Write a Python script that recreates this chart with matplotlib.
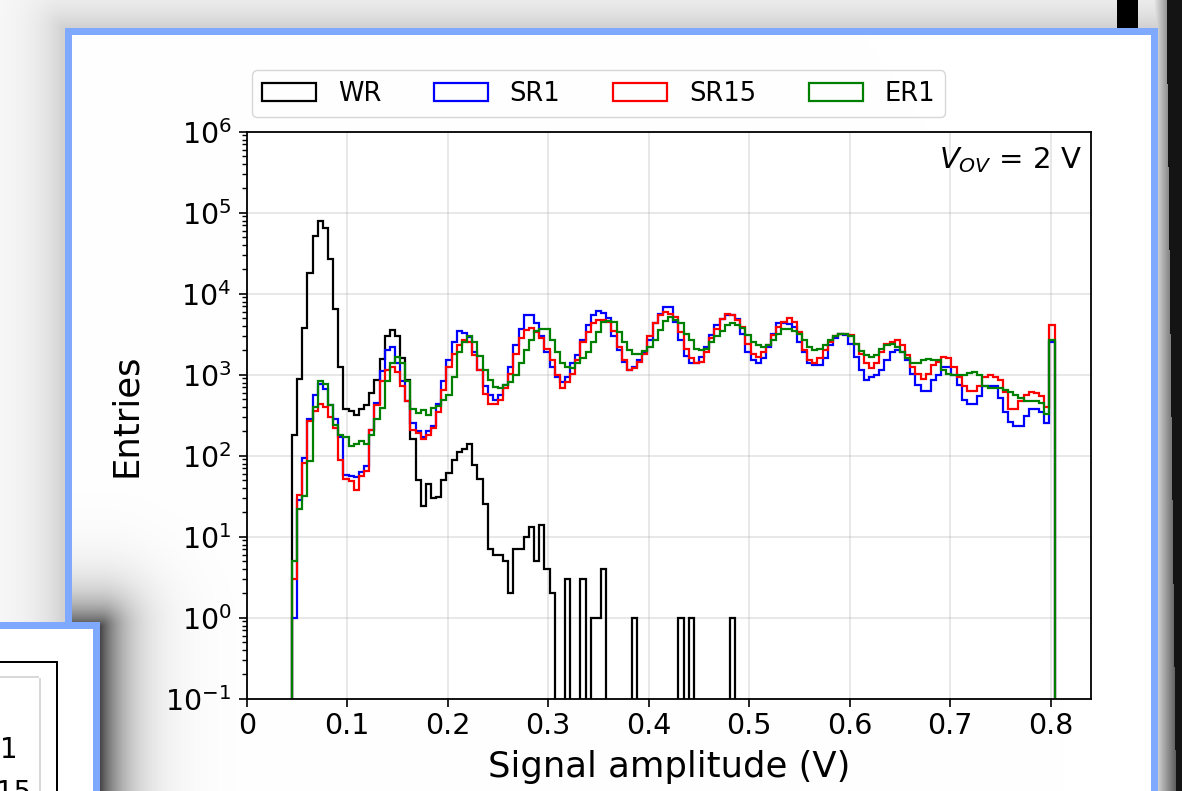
import numpy as np
import matplotlib
matplotlib.use("Agg")
import matplotlib.pyplot as plt
from matplotlib.ticker import FixedLocator, LogLocator, NullFormatter

# ---------------- data (entries per bin) ----------------
bin_edges = np.linspace(0.045, 0.804, 149)

wr = [180, 890, 3800, 18000, 51000, 79000, 65000, 27000, 6500, 1230,
      380, 360, 320, 380, 420, 600, 870, 1550, 3000, 3600,
      3000, 1600, 870, 160, 50, 24, 45, 30, 31, 50,
      62, 89, 110, 120, 140, 76, 51, 25, 7, 6,
      6, 5, 2, 7, 7, 10, 13, 5, 14, 4,
      2, 0, 0, 3, 0, 0, 3, 0, 1, 1,
      4, 0, 0, 0, 0, 0, 1, 0, 0, 0,
      0, 0, 0, 0, 0, 1, 0, 1, 0, 0,
      0, 0, 0, 0, 0, 1] + [0] * 62

sr1 = [1, 28, 93, 280, 560, 760, 660, 420, 280, 170,
       58, 56, 54, 63, 74, 210, 450, 1100, 2000, 2200,
       1400, 830, 480, 250, 200, 170, 200, 230, 440, 830,
       1500, 2500, 3500, 3300, 2900, 1900, 1150, 720, 560, 490,
       560, 740, 1260, 2300, 3700, 5400, 5500, 4300, 3000, 1900,
       1230, 930, 810, 930, 1400, 1740, 2700, 4100, 5400, 6200,
       5800, 5000, 3000, 2000, 1450, 1150, 1230, 1500, 1900, 2700,
       4300, 5600, 6900, 6900, 4500, 2700, 1700, 1400, 1400, 1660,
       2200, 3100, 4100, 4900, 5500, 5500, 4900, 3200, 1900, 1500,
       1400, 1600, 2200, 3200, 4400, 4300, 4200, 3900, 2500, 1900,
       1400, 1300, 1300, 1600, 2300, 2800, 3200, 3100, 2400, 1660,
       1150, 870, 930, 980, 1150, 1500, 1900, 2000, 1900, 1500,
       1020, 740, 630, 630, 850, 1000, 1230, 1230, 980, 740,
       490, 440, 440, 540, 720, 720, 720, 510, 350, 260,
       230, 230, 310, 380, 380, 350, 250, 2500]

sr15 = [3, 33, 81, 270, 360, 440, 400, 300, 220, 89,
        51, 49, 38, 56, 65, 210, 420, 830, 1150, 1230,
        1070, 720, 470, 210, 190, 160, 180, 220, 350, 650,
        1230, 1800, 2300, 2700, 2500, 1740, 1150, 580, 440, 440,
        490, 680, 1020, 1800, 2800, 3600, 3800, 3400, 2800, 2100,
        1500, 980, 690, 810, 1020, 1500, 2500, 3400, 4400, 4800,
        4800, 4500, 3500, 2200, 1500, 1150, 1200, 1450, 1800, 3000,
        4300, 5400, 5900, 5600, 5100, 3400, 2100, 1600, 1400, 1450,
        1900, 2800, 3700, 4900, 5600, 5500, 4700, 3900, 2400, 1800,
        1660, 1900, 2300, 3100, 3900, 4500, 5000, 4500, 3400, 2000,
        1500, 1400, 1600, 2000, 2500, 3000, 3200, 3200, 3100, 2400,
        1800, 1400, 1200, 1400, 1900, 2400, 2500, 2700, 2300, 1740,
        1260, 1020, 890, 1020, 1300, 1450, 1660, 1600, 1260, 930,
        720, 630, 630, 720, 930, 1000, 930, 850, 620, 380,
        380, 470, 560, 620, 600, 540, 400, 4100]

er1 = [5, 22, 32, 85, 400, 830, 760, 420, 240, 180,
       170, 130, 140, 150, 140, 180, 280, 390, 830, 1400,
       1660, 1400, 830, 380, 340, 370, 320, 390, 410, 490,
       560, 930, 1900, 2500, 3000, 2500, 1700, 1150, 870, 710,
       680, 740, 810, 980, 1400, 2000, 2700, 3500, 3700, 3700,
       2700, 1900, 1400, 1260, 1200, 1400, 1600, 1900, 2500, 3400,
       4500, 4600, 4500, 3400, 2500, 2000, 1800, 1800, 1950, 2200,
       2700, 3600, 4600, 5100, 4700, 4300, 3200, 2700, 2100, 2000,
       2100, 2500, 3000, 3500, 4100, 4400, 4100, 3800, 3100, 2500,
       2300, 2200, 2300, 2700, 3200, 3700, 3700, 3500, 3200, 2700,
       2200, 2000, 2100, 2300, 2700, 3000, 3200, 3200, 3000, 2400,
       1950, 1740, 1660, 1740, 2100, 2300, 2400, 2200, 1900, 1600,
       1400, 1400, 1500, 1550, 1500, 1500, 1150, 1020, 980, 980,
       980, 1050, 1070, 980, 720, 690, 690, 680, 650, 620,
       560, 510, 480, 480, 470, 450, 330, 2700]

series_labels = ["WR", "SR1", "SR15", "ER1"]
series_colors = ["black", "blue", "red", "green"]
series_values = [wr, sr1, sr15, er1]

x_ticks = [0, 0.1, 0.2, 0.3, 0.4, 0.5, 0.6, 0.7, 0.8]
x_tick_labels = ["0", "0.1", "0.2", "0.3", "0.4", "0.5", "0.6", "0.7", "0.8"]

# ---------------- figure + decorative screenshot background ----------------
W, H = 1182, 791
fig = plt.figure(figsize=(W / 100, H / 100), dpi=100)

yy, xx = np.mgrid[0:H, 0:W].astype(float)


def rect_dist(x0, y0, x1, y1):
    dx = np.maximum(np.maximum(x0 - xx, xx - x1), 0)
    dy = np.maximum(np.maximum(y0 - yy, yy - y1), 0)
    return np.hypot(dx, dy)


bg = np.ones((H, W)) * 0.985
# soft shadow of the main window
bg -= 0.16 * np.exp(-rect_dist(62, 26, 1160, 2000) / 28.0)
# dark window on the right, behind the main one
right_dark = np.clip((xx - 1150) / 30.0, 0, 1)
bg = np.minimum(bg, 1 - 0.75 * right_dark)
bg[(xx > 1116) & (xx < 1138) & (yy < 40)] = 0.0
bg[(xx > 1166 + 0.012 * yy) & (xx < 1182)] = np.minimum(bg[(xx > 1166 + 0.012 * yy) & (xx < 1182)], 0.08)
bg = np.clip(bg, 0, 1)
img = np.dstack([bg, bg, bg])

blue_frame = np.array([0.50, 0.66, 1.0])
# main window
m = (xx >= 65) & (xx < 1158) & (yy >= 28)
img[m] = blue_frame
m = (xx >= 72) & (xx < 1151) & (yy >= 35)
img[m] = 1.0
# shadow of the small lower-left window falling on the main window
sh = 0.72 * np.exp(-rect_dist(-50, 626, 100, 2000) / 26.0)
inside_main = (xx >= 72) & (xx < 1151) & (yy >= 35)
for c in range(3):
    ch = img[:, :, c]
    ch[inside_main] = ch[inside_main] * (1 - sh[inside_main])
# small lower-left window
m = (xx < 100) & (yy >= 622)
img[m] = blue_frame
m = (xx < 93) & (yy >= 629)
img[m] = 1.0
m = (yy >= 661) & (yy < 663) & (xx < 58)
img[m] = 0.0
m = (xx >= 56) & (xx < 58) & (yy >= 661)
img[m] = 0.0
m = (yy >= 676) & (yy < 678) & (xx < 39)
img[m] = 0.85
m = (xx >= 39) & (xx < 41) & (yy >= 678)
img[m] = 0.85

bgax = fig.add_axes([0, 0, 1, 1], zorder=-10)
bgax.imshow(img, extent=(0, W, H, 0), aspect="auto", interpolation="bilinear")
bgax.set_xlim(0, W)
bgax.set_ylim(H, 0)
bgax.axis("off")
bgax.text(0, 750, "1", fontsize=20, ha="left", va="center")
bgax.text(-4, 793, "15", fontsize=20, ha="left", va="center")

# ---------------- main chart ----------------
ax_l, ax_r, ax_t, ax_b = 246.7, 1090.7, 131.7, 698.7
ax = fig.add_axes([ax_l / W, 1 - ax_b / H, (ax_r - ax_l) / W, (ax_b - ax_t) / H])
ax.set_facecolor("white")

centers = 0.5 * (bin_edges[:-1] + bin_edges[1:])
handles = []
for vals, col, lab in zip(series_values, series_colors, series_labels):
    _, _, patches = ax.hist(centers, bins=bin_edges, weights=vals, histtype="step",
                            color=col, linewidth=1.6, label=lab)
    handles.append(patches[0])

ax.set_yscale("log")
ax.set_ylim(1e-1, 1e6)
ax.set_xlim(0, 0.84)
ax.xaxis.set_major_locator(FixedLocator(x_ticks))
ax.set_xticks(x_ticks)
ax.set_xticklabels(x_tick_labels)
ax.yaxis.set_major_locator(LogLocator(base=10, numticks=20))
ax.yaxis.set_minor_locator(LogLocator(base=10, subs=np.arange(2, 10), numticks=20))
ax.yaxis.set_minor_formatter(NullFormatter())
ax.grid(True, which="major", color="#b0b0b0", alpha=0.35, linewidth=1.2)
ax.tick_params(axis="both", which="major", labelsize=20.5, length=6, width=1.2)
ax.tick_params(axis="y", which="major", pad=5)
ax.tick_params(axis="y", which="minor", length=3.5, width=1.0)
for s in ax.spines.values():
    s.set_linewidth(1.3)

ax.set_xlabel("Signal amplitude (V)", fontsize=25.5, labelpad=7)
ax.set_ylabel("Entries", fontsize=25.5, labelpad=16)

ax.text(0.99, 0.977, r"$V_{OV}$ = 2 V", transform=ax.transAxes, ha="right", va="top", fontsize=21)

ax.legend(handles=handles, labels=series_labels, ncol=4, loc="lower left",
          bbox_to_anchor=(0.006, 1.026), borderaxespad=0, fontsize=18.5,
          handlelength=2.1, handletextpad=0.85, columnspacing=2.05, borderpad=0.4)

fig.savefig("out.png", dpi=100)
